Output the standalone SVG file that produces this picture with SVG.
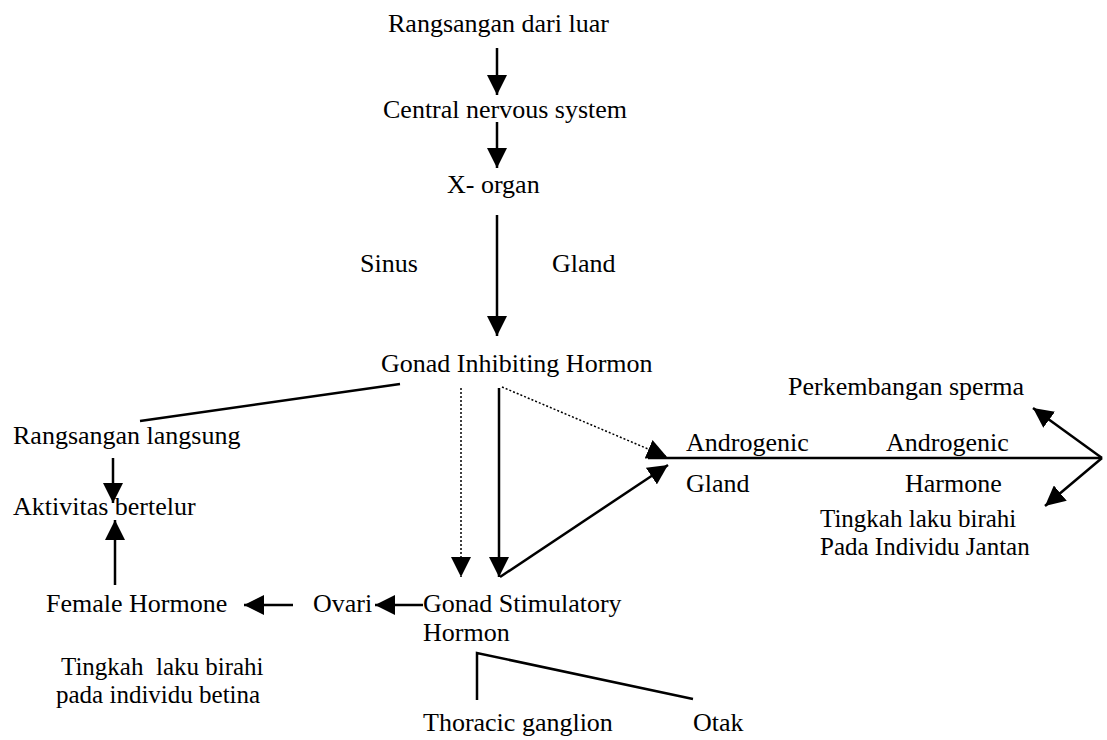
<svg xmlns="http://www.w3.org/2000/svg" width="1107" height="740" viewBox="0 0 1107 740">
<defs>
<marker id="ah" viewBox="0 0 10 10" refX="10" refY="5" markerWidth="20" markerHeight="20" markerUnits="userSpaceOnUse" orient="auto">
<path d="M0,0 L10,5 L0,10 z" fill="#000"/>
</marker>
</defs>
<style>
text{font-family:"Liberation Serif","Times New Roman",serif;font-size:26px;fill:#000}
.s{font-size:25px}
.c{stroke:#000;stroke-width:2.5;fill:none}
.d{stroke:#000;stroke-width:1.5;stroke-dasharray:2 2;fill:none}
</style>
<rect width="1107" height="740" fill="#fff"/>
<g id="n-rangsangan-luar"><text x="388" y="32">Rangsangan dari luar</text></g>
<g id="n-cns"><text x="383" y="118">Central nervous system</text></g>
<g id="n-xorgan"><text x="447" y="193">X- organ</text></g>
<g id="n-sinus"><text x="360" y="272">Sinus</text></g>
<g id="n-gland"><text x="552" y="272">Gland</text></g>
<g id="n-gih"><text x="381" y="372">Gonad Inhibiting Hormon</text></g>
<g id="n-rangsangan-langsung"><text x="13" y="444">Rangsangan langsung</text></g>
<g id="n-aktivitas"><text x="13" y="515">Aktivitas bertelur</text></g>
<g id="n-female"><text x="46" y="612">Female Hormone</text></g>
<g id="n-tingkah-betina"><text class="s" xml:space="preserve"><tspan x="61" y="675">Tingkah  laku birahi</tspan><tspan x="56" y="703">pada individu betina</tspan></text></g>
<g id="n-ovari"><text x="313" y="612">Ovari</text></g>
<g id="n-gsh"><text><tspan x="423" y="612">Gonad Stimulatory</tspan><tspan x="423" y="641">Hormon</tspan></text></g>
<g id="n-thoracic"><text x="423" y="731">Thoracic ganglion</text></g>
<g id="n-otak"><text x="693" y="731">Otak</text></g>
<g id="n-androgenic-gland"><text><tspan x="686" y="451">Androgenic</tspan><tspan x="686" y="492">Gland</tspan></text></g>
<g id="n-androgenic-hormone"><text><tspan x="886" y="451">Androgenic</tspan><tspan x="905" y="492">Harmone</tspan></text></g>
<g id="n-sperma"><text x="788" y="395">Perkembangan sperma</text></g>
<g id="n-tingkah-jantan"><text class="s"><tspan x="820" y="527">Tingkah laku birahi</tspan><tspan x="820" y="555">Pada Individu Jantan</tspan></text></g>
<g id="connectors">
<line class="c" x1="497" y1="48" x2="497" y2="95" marker-end="url(#ah)"/>
<line class="c" x1="497" y1="122" x2="497" y2="168" marker-end="url(#ah)"/>
<line class="c" x1="497" y1="215" x2="497" y2="336" marker-end="url(#ah)"/>
<line class="c" x1="400" y1="384" x2="140" y2="421"/>
<line class="c" x1="113" y1="458" x2="113" y2="503" marker-end="url(#ah)"/>
<line class="c" x1="115" y1="585" x2="115" y2="520" marker-end="url(#ah)"/>
<line class="c" x1="293" y1="605" x2="244" y2="605" marker-end="url(#ah)"/>
<line class="c" x1="423" y1="605" x2="375" y2="605" marker-end="url(#ah)"/>
<polyline class="c" points="477,700 477,653 693,699"/>
<line class="d" x1="461" y1="388" x2="461" y2="577" marker-end="url(#ah)"/>
<line class="c" x1="499" y1="388" x2="499" y2="577" marker-end="url(#ah)"/>
<line class="d" x1="502" y1="387" x2="667" y2="457" marker-end="url(#ah)"/>
<line class="c" x1="500" y1="577" x2="668" y2="465" marker-end="url(#ah)"/>
<line class="c" x1="648" y1="458" x2="1102" y2="458"/>
<line class="c" x1="1102" y1="458" x2="1033" y2="408" marker-end="url(#ah)"/>
<line class="c" x1="1102" y1="458" x2="1045" y2="506" marker-end="url(#ah)"/>
</g>
</svg>
